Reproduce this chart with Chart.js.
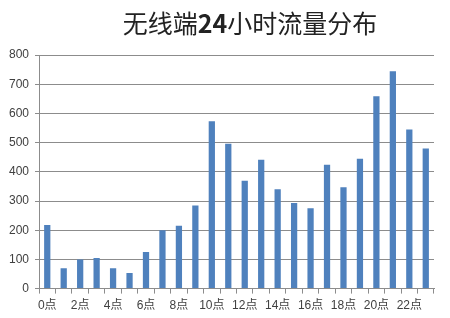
<!DOCTYPE html>
<html>
<head>
<meta charset="utf-8">
<script src="https://cdn.jsdelivr.net/npm/chart.js@4"></script>
<style>
  html, body { margin: 0; padding: 0; background: #fff; }
  #wrap { position: relative; width: 450px; height: 318px; }
  #title {
    position: absolute; left: 50px; right: 0; top: 6px;
    text-align: center; font-family: "Noto Sans CJK SC", sans-serif;
    font-size: 25px; font-weight: 400; color: #222; line-height: 32px;
  }
  #title b { font-weight: 700; }
  canvas { position: absolute; left: 0; top: 0; }
</style>
</head>
<body>
<div id="wrap">
  <canvas id="trafficChart" width="450" height="318"></canvas>
  <div id="title">无线端<b>24</b>小时流量分布</div>
</div>
<script>
const hours = ["0点", "1点", "2点", "3点", "4点", "5点", "6点", "7点", "8点", "9点", "10点", "11点",
  "12点", "13点", "14点", "15点", "16点", "17点", "18点", "19点", "20点", "21点", "22点", "23点"];
const traffic = [218, 70, 100, 105, 70, 53, 125, 200, 215, 285, 573, 496,
  369, 441, 340, 293, 275, 424, 347, 445, 659, 744, 545, 480];

const axisFont = { family: "'Liberation Sans', 'Noto Sans CJK SC', sans-serif", size: 12 };

new Chart(document.getElementById("trafficChart"), {
  type: "bar",
  data: {
    labels: hours,
    datasets: [
      {
        label: "流量",
        data: traffic,
        backgroundColor: "#4f81bd",
        categoryPercentage: 1,
        barPercentage: 0.38,
      },
    ],
  },
  options: {
    responsive: false,
    animation: false,
    layout: { padding: { top: 55, right: 16, left: 3, bottom: 0 } },
    plugins: {
      legend: { display: false },
      tooltip: { enabled: false },
    },
    scales: {
      x: {
        grid: {
          offset: true,
          drawOnChartArea: false,
          color: "#8c8c8c",
          tickLength: 5,
        },
        border: { color: "#8c8c8c" },
        ticks: {
          autoSkip: false,
          maxRotation: 0,
          color: "#404040",
          font: axisFont,
          padding: 5,
          callback: (value, index) => (index % 2 === 0 ? hours[index] : ""),
        },
      },
      y: {
        min: 0,
        max: 800,
        ticks: { stepSize: 100, color: "#404040", font: axisFont, padding: 6 },
        grid: { color: "#8c8c8c", tickLength: 4 },
        border: { color: "#8c8c8c" },
      },
    },
  },
});
</script>
</body>
</html>
